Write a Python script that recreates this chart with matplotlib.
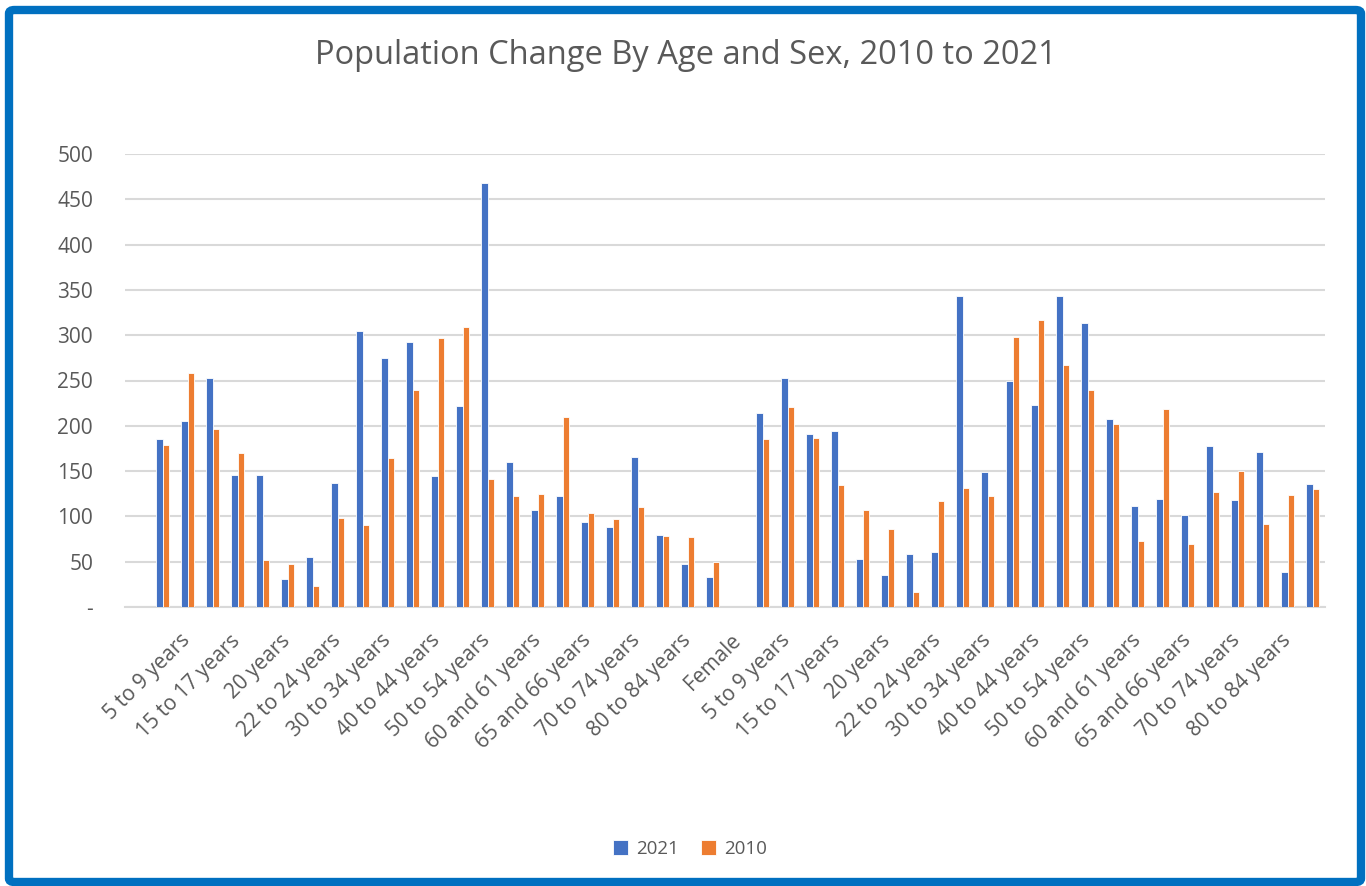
import numpy as np
import matplotlib
matplotlib.use("Agg")
import matplotlib.pyplot as plt
from matplotlib.patches import FancyBboxPatch

ages = ["Under 5 years", "5 to 9 years", "10 to 14 years", "15 to 17 years",
        "18 and 19 years", "20 years", "21 years", "22 to 24 years",
        "25 to 29 years", "30 to 34 years", "35 to 39 years", "40 to 44 years",
        "45 to 49 years", "50 to 54 years", "55 to 59 years", "60 and 61 years",
        "62 to 64 years", "65 and 66 years", "67 to 69 years", "70 to 74 years",
        "75 to 79 years", "80 to 84 years", "85 years and over"]
categories = [""] + ages + ["Female"] + ages

# values (nan = no bar)
male_2021 = [185, 205, 253, 146, 146, 31, 55, 137, 305, 275, 292, 145,
             222, 468, 160, 107, 122, 94, 88, 166, 79, 47, 33]
male_2010 = [179, 258, 197, 170, 52, 48, 23, 98, 91, 165, 240, 297,
             309, 141, 122, 125, 210, 104, 97, 110, 78, 77, 50]
female_2021 = [214, 253, 191, 194, 53, 35, 59, 61, 343, 149, 249, 223,
               343, 313, 207, 112, 119, 101, 178, 118, 171, 39, 136]
female_2010 = [185, 221, 187, 135, 107, 86, 17, 117, 131, 123, 298, 317,
               267, 240, 202, 73, 219, 70, 127, 150, 92, 124, 130]

y2021 = [np.nan] + male_2021 + [np.nan] + female_2021
y2010 = [np.nan] + male_2010 + [np.nan] + female_2010

blue = "#4472C4"
orange = "#ED7D31"
grey_text = "#595959"
grid_c = "#D9D9D9"

plt.rcParams["font.family"] = ["Open Sans", "DejaVu Sans"]

fig = plt.figure(figsize=(13.66, 8.86), dpi=100)
ax = fig.add_axes([125 / 1366, 1 - 607 / 886, 1200 / 1366, (607 - 154) / 886])

x = np.arange(len(categories))
w = 0.25
ax.bar(x - w / 2, y2021, w, color=blue, edgecolor="white", linewidth=0.6, label="2021", zorder=3)
ax.bar(x + w / 2, y2010, w, color=orange, edgecolor="white", linewidth=0.6, label="2010", zorder=3)

ax.set_xlim(-0.5, len(categories) - 0.5)
ax.set_ylim(0, 500)
ax.set_yticks(range(0, 501, 50))
ax.set_yticklabels(["-"] + [str(v) for v in range(50, 501, 50)])
ax.yaxis.grid(True, color=grid_c, linewidth=1.5, zorder=0)
for s in ["top", "right", "left"]:
    ax.spines[s].set_visible(False)
ax.spines["bottom"].set_color(grid_c)
ax.spines["bottom"].set_linewidth(1.5)

ax.set_xticks(x[::2])
ax.set_xticklabels(categories[::2], rotation=45, ha="right", va="center",
                   rotation_mode="anchor")
ax.tick_params(axis="x", length=0, pad=22, labelsize=15, labelcolor=grey_text)
ax.tick_params(axis="y", length=0, pad=23, labelsize=15, labelcolor=grey_text)

fig.text(686 / 1366, 1 - 55 / 886, "Population Change By Age and Sex, 2010 to 2021",
         ha="center", va="center", fontsize=23.5, color=grey_text)

fig.legend(loc="center", bbox_to_anchor=(690 / 1366, 1 - 849 / 886), ncol=2,
           frameon=False, fontsize=13.5, labelcolor=grey_text, handlelength=0.8,
           handleheight=0.8, columnspacing=1.2, handletextpad=0.4)

border = FancyBboxPatch((9 / 1366, 4 / 886), 1352 / 1366, 872 / 886,
                        boxstyle="round,pad=0,rounding_size=0.004",
                        transform=fig.transFigure, fill=False,
                        edgecolor="#0070C0", linewidth=6)
fig.patches.append(border)

fig.savefig("out.png", dpi=100)
